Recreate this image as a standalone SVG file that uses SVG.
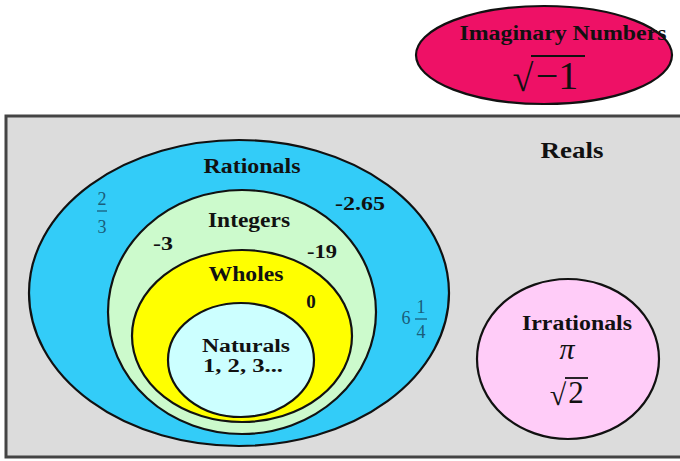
<svg xmlns="http://www.w3.org/2000/svg" width="680" height="461" viewBox="0 0 680 461">
<style>
.t{font-family:"Liberation Serif","Times New Roman",serif;font-weight:bold;fill:#111;text-anchor:middle}
.m{font-family:"Liberation Serif","Times New Roman",serif;fill:#111;text-anchor:middle}
.f{font-family:"Liberation Serif","Times New Roman",serif;fill:#1a5d7a;text-anchor:middle;font-size:18px}
.s{stroke:#111;stroke-width:2.2}
</style>
<rect width="680" height="461" fill="#ffffff"/>
<g id="imaginary">
<ellipse cx="544" cy="55" rx="128" ry="49" fill="#ee1166" class="s"/>
<text class="t" x="563" y="40" font-size="20" textLength="207" lengthAdjust="spacingAndGlyphs">Imaginary Numbers</text>
<text class="m" x="523" y="91" font-size="38">√</text>
<text class="m" x="557" y="89" font-size="40">−1</text>
<line x1="531" y1="56" x2="585" y2="56" stroke="#111" stroke-width="2"/>
</g>
<g id="reals">
<rect x="6" y="116" width="690" height="341" fill="#dcdcdc" stroke="#444" stroke-width="3"/>
<text class="t" x="572" y="158" font-size="23" textLength="63" lengthAdjust="spacingAndGlyphs">Reals</text>
</g>
<g id="rationals">
<ellipse cx="239" cy="293" rx="210" ry="153" fill="#33ccf8" class="s"/>
<text class="t" x="252" y="173" font-size="20" textLength="97" lengthAdjust="spacingAndGlyphs">Rationals</text>
<text class="f" x="102" y="205">2</text>
<line x1="97" y1="211" x2="107" y2="211" stroke="#1a5d7a" stroke-width="1.3"/>
<text class="f" x="102" y="233">3</text>
<text class="t" x="360" y="210" font-size="19" textLength="50" lengthAdjust="spacingAndGlyphs">-2.65</text>
<text class="f" x="406" y="324">6</text>
<line x1="415" y1="319" x2="427" y2="319" stroke="#1a5d7a" stroke-width="1.3"/>
<text class="f" x="421" y="313">1</text>
<text class="f" x="421" y="338">4</text>
</g>
<g id="integers">
<ellipse cx="242" cy="312" rx="134" ry="122" fill="#ccfacc" class="s"/>
<text class="t" x="249" y="227" font-size="20" textLength="82" lengthAdjust="spacingAndGlyphs">Integers</text>
<text class="t" x="163" y="250" font-size="19" textLength="20" lengthAdjust="spacingAndGlyphs">-3</text>
<text class="t" x="322" y="258" font-size="19" textLength="30" lengthAdjust="spacingAndGlyphs">-19</text>
</g>
<g id="wholes">
<ellipse cx="242" cy="336" rx="110" ry="86" fill="#ffff00" class="s"/>
<text class="t" x="246" y="281" font-size="20" textLength="75" lengthAdjust="spacingAndGlyphs">Wholes</text>
<text class="t" x="311" y="308" font-size="19">0</text>
</g>
<g id="naturals">
<ellipse cx="241" cy="360" rx="73" ry="57" fill="#ccffff" class="s"/>
<text class="t" x="246" y="352" font-size="18" textLength="88" lengthAdjust="spacingAndGlyphs">Naturals</text>
<text class="t" x="243" y="372" font-size="18" textLength="80" lengthAdjust="spacingAndGlyphs">1, 2, 3...</text>
</g>
<g id="irrationals">
<ellipse cx="568" cy="359" rx="91" ry="80" fill="#ffccf8" class="s"/>
<text class="t" x="577" y="330" font-size="20" textLength="110" lengthAdjust="spacingAndGlyphs">Irrationals</text>
<text class="m" x="567" y="359" font-size="30" font-style="italic">π</text>
<text class="m" x="558" y="405" font-size="30">√</text>
<text class="m" x="576" y="403" font-size="31">2</text>
<line x1="565" y1="378" x2="588" y2="378" stroke="#111" stroke-width="1.8"/>
</g>
</svg>
